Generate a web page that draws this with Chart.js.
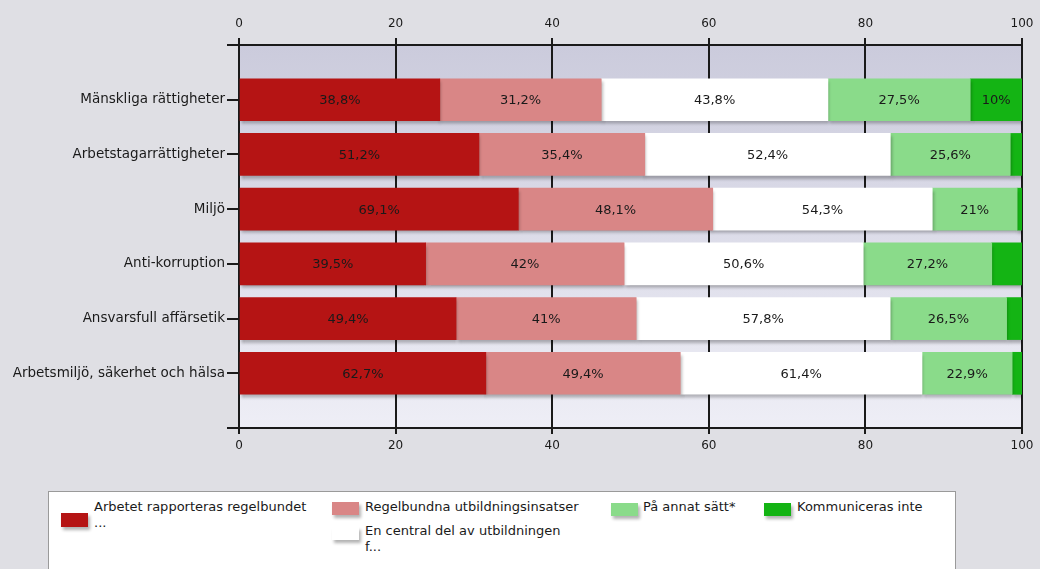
<!DOCTYPE html>
<html>
<head>
<meta charset="utf-8">
<script src="https://cdn.jsdelivr.net/npm/chart.js@4"></script>
<style>
  html, body { margin: 0; padding: 0; background: #dfdfe4; }
  body { width: 1040px; height: 569px; position: relative; overflow: hidden; font-family: "DejaVu Sans", sans-serif; }
  #c { position: absolute; left: 0; top: 0; }
  #legend { position: absolute; left: 48px; top: 491px; width: 908px; height: 120px; background: #fff; border: 1px solid #9a9a9a; box-sizing: border-box; }
  .li { position: absolute; font-size: 13px; line-height: 16px; color: #1a1a1a; white-space: nowrap; }
  .sw { position: absolute; width: 27px; height: 13px; box-shadow: 2px 3px 3px rgba(0,0,0,0.3); }
</style>
</head>
<body>
<canvas id="c" width="1040" height="569"></canvas>
<div id="legend"></div>
<script>
// ---- data ----
const categories = ['Mänskliga rättigheter', 'Arbetstagarrättigheter', 'Miljö', 'Anti-korruption', 'Ansvarsfull affärsetik', 'Arbetsmiljö, säkerhet och hälsa'];
const seriesNames = ['Arbetet rapporteras regelbundet ...', 'Regelbundna utbildningsinsatser', 'En central del av utbildningen f...', 'På annat sätt*', 'Kommuniceras inte'];
const legendLines = [['Arbetet rapporteras regelbundet', '...'], ['Regelbundna utbildningsinsatser'], ['En central del av utbildningen', 'f...'], ['På annat sätt*'], ['Kommuniceras inte']];
const reported   = [38.8, 51.2, 69.1, 39.5, 49.4, 62.7];
const training   = [31.2, 35.4, 48.1, 42.0, 41.0, 49.4];
const central    = [43.8, 52.4, 54.3, 50.6, 57.8, 61.4];
const otherWay   = [27.5, 25.6, 21.0, 27.2, 26.5, 22.9];
const notComm    = [10.0, 2.5, 1.2, 6.4, 3.5, 2.5];
const xTicks     = [0, 20, 40, 60, 80, 100];
const colors = ['#b51414', '#d98686', '#ffffff', '#8adb8a', '#14b414'];

const raw = [reported, training, central, otherWay, notComm];
const totals = categories.map((_, i) => raw.reduce((s, a) => s + a[i], 0));
const labels = [''].concat(categories, ['']);

const datasets = raw.map((arr, k) => ({
  label: seriesNames[k],
  data: [null].concat(arr.map((v, i) => v / totals[i] * 100), [null]),
  rawValues: [null].concat(arr, [null]),
  backgroundColor: colors[k],
  borderWidth: 0,
  barThickness: 42,
  xAxisID: 'x',
  yAxisID: 'y'
}));

const LABEL_FONT = { family: 'DejaVu Sans', size: 13.5 };
const TICK_FONT = { family: 'DejaVu Sans', size: 12 };
const INK = '#1a1a1a';

const bgPlugin = {
  id: 'bg',
  beforeDraw(chart) {
    const { ctx, chartArea: a } = chart;
    const g = ctx.createLinearGradient(0, a.top, 0, a.bottom);
    g.addColorStop(0, '#cbcbdc');
    g.addColorStop(1, '#eeeef6');
    ctx.save();
    ctx.fillStyle = g;
    ctx.fillRect(a.left, a.top, a.right - a.left, a.bottom - a.top);
    ctx.restore();
  }
};

const shadowPlugin = {
  id: 'shadow',
  beforeDatasetDraw(chart) {
    const ctx = chart.ctx;
    ctx.save();
    ctx.shadowColor = 'rgba(0,0,0,0.28)';
    ctx.shadowOffsetX = 1;
    ctx.shadowOffsetY = 3;
    ctx.shadowBlur = 3;
  },
  afterDatasetDraw(chart) { chart.ctx.restore(); }
};

function fmt(v) { return String(Math.round(v * 10) / 10).replace('.', ',') + '%'; }

const labelPlugin = {
  id: 'vlabels',
  afterDatasetsDraw(chart) {
    const ctx = chart.ctx;
    ctx.save();
    ctx.font = '13px "DejaVu Sans"';
    ctx.fillStyle = INK;
    ctx.textAlign = 'center';
    ctx.textBaseline = 'middle';
    chart.data.datasets.forEach((ds, di) => {
      const meta = chart.getDatasetMeta(di);
      meta.data.forEach((el, i) => {
        const v = ds.rawValues[i];
        if (v == null) return;
        const w = Math.abs(el.x - el.base);
        if (w < 40) return;
        ctx.fillText(fmt(v), (el.x + el.base) / 2, el.y + 1);
      });
    });
    ctx.restore();
  }
};

function noSidePad(s) { s.paddingLeft = 0; s.paddingRight = 0; }

new Chart(document.getElementById('c'), {
  type: 'bar',
  data: { labels, datasets },
  options: {
    indexAxis: 'y',
    responsive: false,
    animation: false,
    layout: { padding: { left: 0, right: 18, top: 0, bottom: 0 } },
    plugins: { legend: { display: false }, tooltip: { enabled: false } },
    scales: {
      x: {
        type: 'linear', position: 'top', min: 0, max: 100, stacked: true,
        afterBuildTicks(s) { s.ticks = xTicks.map(v => ({ value: v })); },
        afterFit(s) { s.height = 45; noSidePad(s); },
        ticks: { color: INK, font: TICK_FONT, padding: 7 },
        grid: { color: INK, lineWidth: 2, drawOnChartArea: true, drawTicks: true, tickLength: 7, tickColor: INK },
        border: { display: true, color: INK, width: 2 }
      },
      x2: {
        type: 'linear', position: 'bottom', min: 0, max: 100,
        afterBuildTicks(s) { s.ticks = xTicks.map(v => ({ value: v })); },
        afterFit(s) { s.height = 141; noSidePad(s); },
        ticks: { color: INK, font: TICK_FONT, padding: 5 },
        grid: { color: INK, lineWidth: 2, drawOnChartArea: false, drawTicks: true, tickLength: 6, tickColor: INK },
        border: { display: true, color: INK, width: 2 }
      },
      y: {
        type: 'category', stacked: true, offset: false,
        afterFit(s) { s.width = 239; },
        ticks: { color: INK, font: LABEL_FONT, padding: 2, autoSkip: false },
        grid: { offset: false, drawOnChartArea: false, drawTicks: true, tickLength: 12, tickColor: INK, lineWidth: 2 },
        border: { display: true, color: INK, width: 2 }
      }
    }
  },
  plugins: [bgPlugin, shadowPlugin, labelPlugin]
});

// ---- legend (HTML, built from series arrays) ----
const legendPos = [
  { sx: 61, sy: 513, sh: 14, tx: 94, ty: 499 },
  { sx: 332, sy: 502, sh: 13, tx: 365, ty: 499 },
  { sx: 332, sy: 527, sh: 13, tx: 365, ty: 523 },
  { sx: 611, sy: 503, sh: 13, tx: 643, ty: 499 },
  { sx: 764, sy: 503, sh: 13, tx: 797, ty: 499 }
];
seriesNames.forEach((name, k) => {
  const p = legendPos[k];
  const sw = document.createElement('div');
  sw.className = 'sw';
  sw.style.left = p.sx + 'px'; sw.style.top = p.sy + 'px'; sw.style.height = p.sh + 'px';
  sw.style.background = colors[k];
  document.body.appendChild(sw);
  const t = document.createElement('div');
  t.className = 'li';
  t.style.left = p.tx + 'px'; t.style.top = p.ty + 'px';
  t.innerHTML = legendLines[k].join('<br>');
  document.body.appendChild(t);
});
</script>
</body>
</html>
